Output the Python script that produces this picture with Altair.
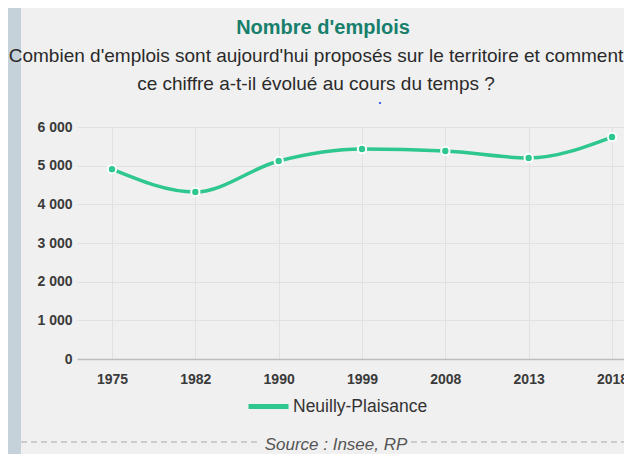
import json
import altair as alt
import pandas as pd

# ---- data ----
years = ["1975", "1982", "1990", "1999", "2008", "2013", "2018"]
emplois = [4910, 4320, 5120, 5430, 5380, 5200, 5740]
serie = "Neuilly-Plaisance"
y_ticks = [0, 1000, 2000, 3000, 4000, 5000, 6000]

title_text = "Nombre d'emplois"
subtitle_lines = [
    "Combien d'emplois sont aujourd'hui proposés sur le territoire et comment",
    "ce chiffre a-t-il évolué au cours du temps ?",
]
source_text = "Source : Insee, RP"

GREEN = "#2dc78f"
TEAL = "#177f6b"
FONT = "Liberation Sans"
BG = "#f0f0f0"
STRIP = "#c6d2d9"

df = pd.DataFrame({
    "idx": list(range(len(years))),
    "annee": years,
    "emplois": emplois,
    "serie": [serie] * len(years),
})

x_enc = alt.X(
    "idx:Q",
    scale=alt.Scale(domain=[-0.42, 6.144], nice=False, zero=False),
    axis=alt.Axis(
        values=list(range(len(years))),
        labelExpr=f"{json.dumps(years)}[datum.value]",
        title=None, grid=True, gridColor="#e1e1e1", ticks=False,
        domain=True, domainColor="#bdbdbd", domainWidth=1.5,
        labelFontSize=14, labelFontWeight="bold", labelColor="#3a3a3a",
        labelPadding=13, labelFont=FONT, labelOverlap=False,
    ),
)
y_enc = alt.Y(
    "emplois:Q",
    scale=alt.Scale(domain=[0, 6000], nice=False),
    axis=alt.Axis(
        values=y_ticks, title=None, grid=True, gridColor="#e1e1e1",
        domain=False, ticks=False, labelPadding=5, labelOverlap=False,
        labelExpr="replace(format(datum.value, ','), ',', ' ')",
        labelFontSize=14, labelFontWeight="bold", labelColor="#3a3a3a", labelFont=FONT,
    ),
)

base = alt.Chart(df)

line = base.mark_line(interpolate="monotone", strokeWidth=3.5).encode(
    x=x_enc, y=y_enc,
    color=alt.Color(
        "serie:N",
        scale=alt.Scale(range=[GREEN]),
        legend=alt.Legend(
            orient="none", legendX=169, legendY=257, title=None,
            symbolType="stroke", symbolSize=1600, symbolStrokeWidth=5,
            labelFontSize=17.5, labelColor="#333333", labelFont=FONT, labelOffset=2,
        ),
    ),
)

points = base.mark_point(
    shape="circle", filled=True, fill=GREEN, stroke="white",
    strokeWidth=2, size=70, opacity=1,
).encode(x=x_enc, y=y_enc)

# decorations
strip = alt.Chart(pd.DataFrame({"a": [0]})).mark_rect(color=STRIP).encode(
    x=alt.value(-69), x2=alt.value(-56), y=alt.value(-119), y2=alt.value(330)
)

title_df = pd.DataFrame({"t": [title_text]})
title = alt.Chart(title_df).mark_text(
    align="center", baseline="alphabetic", fontSize=20, fontWeight="bold",
    color=TEAL, font=FONT,
).encode(text="t:N", x=alt.value(246), y=alt.value(-93))

sub1 = alt.Chart(pd.DataFrame({"t": [subtitle_lines[0]]})).mark_text(
    align="center", baseline="alphabetic", fontSize=19, color="#2a2a2a", font=FONT,
).encode(text="t:N", x=alt.value(239), y=alt.value(-65))

sub2 = alt.Chart(pd.DataFrame({"t": [subtitle_lines[1]]})).mark_text(
    align="center", baseline="alphabetic", fontSize=19, color="#2a2a2a", font=FONT,
).encode(text="t:N", x=alt.value(239), y=alt.value(-37))

dot = alt.Chart(pd.DataFrame({"a": [0]})).mark_circle(size=5, color="#2244ee", opacity=1).encode(
    x=alt.value(303), y=alt.value(-24)
)

dash_df = pd.DataFrame({"a": [0]})
dash_left = alt.Chart(dash_df).mark_rule(strokeDash=[6, 4], color="#a8a8a8", strokeWidth=1).encode(
    x=alt.value(-56), x2=alt.value(184), y=alt.value(315)
)
dash_right = alt.Chart(dash_df).mark_rule(strokeDash=[6, 4], color="#a8a8a8", strokeWidth=1).encode(
    x=alt.value(334), x2=alt.value(547), y=alt.value(315)
)
source = alt.Chart(pd.DataFrame({"t": [source_text]})).mark_text(
    align="center", baseline="middle", fontSize=17, fontStyle="italic",
    color="#555555", font=FONT,
).encode(text="t:N", x=alt.value(259), y=alt.value(318))

chart = alt.layer(
    strip, line, points, title, sub1, sub2, dot, dash_left, dash_right, source
).properties(
    width=547, height=232,
    padding={"left": 69, "top": 119, "right": 0, "bottom": 95},
    autosize=alt.AutoSizeParams(type="none"),
).configure(
    background=BG, font=FONT,
).configure_view(stroke=None)

chart.save("out.html", embed_options={"renderer": "svg", "actions": False})
